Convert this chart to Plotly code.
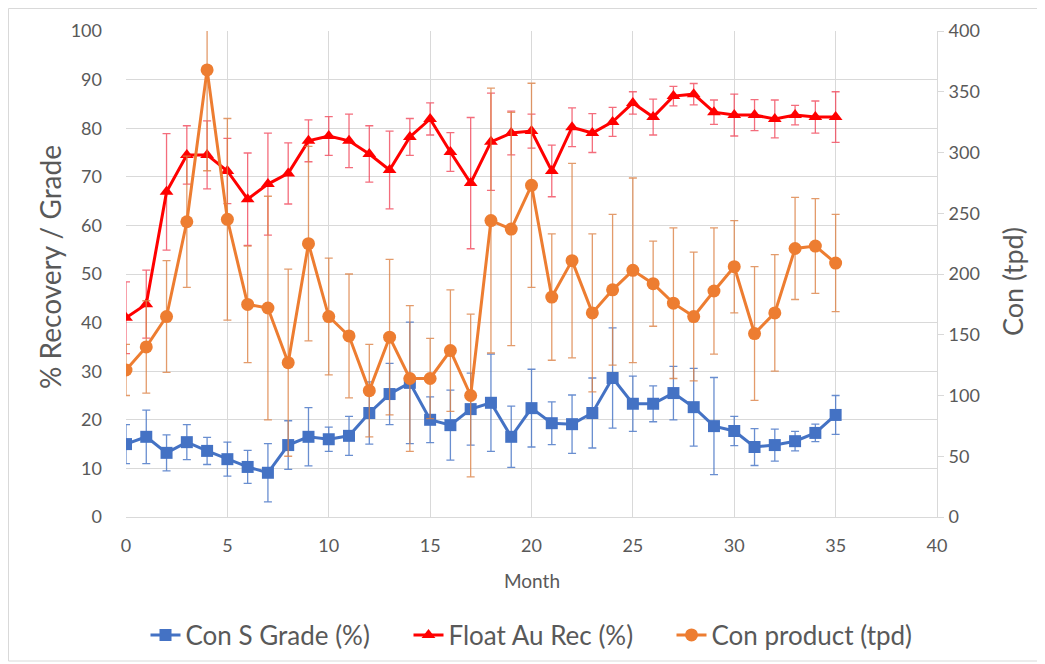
import plotly.graph_objects as go

months = list(range(36))

con_s_grade = [15.0, 16.5, 13.2, 15.4, 13.6, 11.9, 10.3, 9.1, 14.8, 16.5, 16.0, 16.7,
               21.4, 25.3, 27.6, 20.0, 18.9, 22.2, 23.5, 16.5, 22.4, 19.3, 19.1, 21.4,
               28.6, 23.3, 23.3, 25.5, 22.6, 18.7, 17.7, 14.4, 14.8, 15.6, 17.3, 21.0]
con_s_grade_err = [4.0, 5.5, 3.7, 3.6, 2.8, 3.5, 3.4, 6.0, 5.0, 6.0, 2.5, 4.0,
                   6.4, 6.3, 12.5, 4.7, 7.2, 7.4, 10.0, 6.3, 8.0, 4.4, 6.0, 7.2,
                   10.3, 5.7, 3.7, 5.5, 8.0, 10.0, 3.0, 3.8, 3.3, 2.0, 1.8, 4.0]

float_au_rec = [41.0, 43.8, 66.9, 74.5, 74.5, 71.2, 65.4, 68.5, 70.7, 77.4, 78.4, 77.4,
                74.7, 71.4, 78.2, 81.9, 75.1, 68.7, 77.2, 79.0, 79.4, 71.2, 80.2, 79.0,
                81.3, 85.2, 82.3, 86.6, 87.0, 83.3, 82.7, 82.7, 81.9, 82.7, 82.3, 82.3]
float_au_rec_err = [7.4, 7.0, 12.0, 6.0, 7.0, 6.7, 9.5, 10.5, 6.3, 4.3, 4.0, 5.5,
                    5.8, 8.0, 3.8, 3.3, 4.0, 13.5, 10.0, 4.5, 3.5, 5.3, 4.0, 4.0,
                    3.0, 2.3, 3.7, 2.0, 2.2, 2.5, 4.3, 3.2, 3.9, 2.0, 3.3, 5.2]

con_product = [121, 140, 165, 243, 368, 245, 175, 172, 127, 225, 165, 149,
               104, 148, 114, 114, 137, 100, 244, 237, 273, 181, 211, 168,
               187, 203, 192, 176, 165, 186, 206, 151, 168, 221, 223, 209]
con_product_err = [21, 38, 46, 54, 83, 83, 48, 92, 77, 80, 48, 51,
                   38, 64, 60, 33, 50, 67, 109, 96, 84, 52, 80, 65,
                   62, 76, 35, 62, 53, 52, 38, 55, 48, 42, 39, 40]

names = ["Con S Grade (%)", "Float Au Rec (%)", "Con product (tpd)"]
left_ticks = list(range(0, 101, 10))
right_ticks = list(range(0, 401, 50))
x_ticks = list(range(0, 41, 5))
left_title = "% Recovery / Grade"
right_title = "Con (tpd)"
x_title = "Month"

BLUE = "#4472C4"
RED = "#FF0000"
ORANGE = "#ED7D31"
TXT = "#595959"
GRID = "#D9D9D9"
FONT = "Lato, 'Open Sans', sans-serif"

# the figure sits inside the page body (8px offset), so size/margins compensate
W, H = 1037, 656
L, R, T, B = 118, 108, 23, 147
PW = W - L - R
PH = H - T - B


def px_x(fx):
    return (fx - L) / PW


def px_y(fy):
    return (PH - (fy - T)) / PH


fig = go.Figure()

fig.add_trace(go.Scatter(
    x=months, y=con_s_grade, name=names[0], mode="lines+markers",
    line=dict(color=BLUE, width=3),
    marker=dict(symbol="square", size=12, color=BLUE),
    error_y=dict(type="data", array=con_s_grade_err, visible=True,
                 color="rgba(68,114,196,0.8)", thickness=1.3, width=4),
))
fig.add_trace(go.Scatter(
    x=months, y=float_au_rec, name=names[1], mode="lines+markers",
    line=dict(color=RED, width=3),
    marker=dict(symbol="triangle-up", size=12, color=RED),
    error_y=dict(type="data", array=float_au_rec_err, visible=True,
                 color="rgba(240,60,80,0.75)", thickness=1.3, width=4),
))
fig.add_trace(go.Scatter(
    x=months, y=con_product, name=names[2], mode="lines+markers", yaxis="y2",
    line=dict(color=ORANGE, width=3),
    marker=dict(symbol="circle", size=13, color=ORANGE),
    error_y=dict(type="data", array=con_product_err, visible=True,
                 color="rgba(220,130,70,0.8)", thickness=1.3, width=4),
))

fig.update_layout(
    width=W, height=H,
    margin=dict(l=L, r=R, t=T, b=B, pad=0, autoexpand=False),
    paper_bgcolor="white", plot_bgcolor="white",
    font=dict(family=FONT, color=TXT, size=18),
    showlegend=True,
    legend=dict(orientation="h", x=px_x(532), xanchor="center", y=px_y(627),
                yanchor="middle", font=dict(size=26, color=TXT), itemwidth=30,
                entrywidth=218, entrywidthmode="pixels"),
    xaxis=dict(range=[0, 40], tickvals=x_ticks, showgrid=True, gridcolor=GRID, gridwidth=1,
               zeroline=False, showline=True, linecolor=GRID, linewidth=1,
               ticks="", ticklabelstandoff=12, tickfont=dict(size=18, color=TXT)),
    yaxis=dict(range=[0, 100], tickvals=left_ticks, showgrid=True, gridcolor=GRID, gridwidth=1,
               zeroline=False, showline=False, ticks="", ticklabelstandoff=23,
               tickfont=dict(size=18, color=TXT)),
    yaxis2=dict(range=[0, 400], tickvals=right_ticks, overlaying="y", side="right",
                showgrid=False, zeroline=False, showline=True, linecolor=GRID, linewidth=1,
                ticks="outside", ticklen=6, tickcolor=GRID, ticklabelstandoff=1,
                tickfont=dict(size=18, color=TXT)),
    annotations=[
        dict(text=left_title, xref="paper", yref="paper", x=px_x(42), y=px_y(259),
             xanchor="center", yanchor="middle", textangle=-90, showarrow=False,
             font=dict(size=28, color=TXT)),
        dict(text=right_title, xref="paper", yref="paper", x=px_x(1004), y=px_y(274),
             xanchor="center", yanchor="middle", textangle=-90, showarrow=False,
             font=dict(size=27, color=TXT)),
        dict(text=x_title, xref="paper", yref="paper", x=px_x(524), y=px_y(572),
             xanchor="center", yanchor="middle", showarrow=False,
             font=dict(size=19, color=TXT)),
    ],
    shapes=[dict(type="rect", xref="paper", yref="paper",
                 x0=px_x(0.5), x1=px_x(W - 1),
                 y0=px_y(H - 3), y1=px_y(0.5),
                 line=dict(color=GRID, width=1), fillcolor="rgba(0,0,0,0)", layer="below")],
)

fig.write_html("out.html")
